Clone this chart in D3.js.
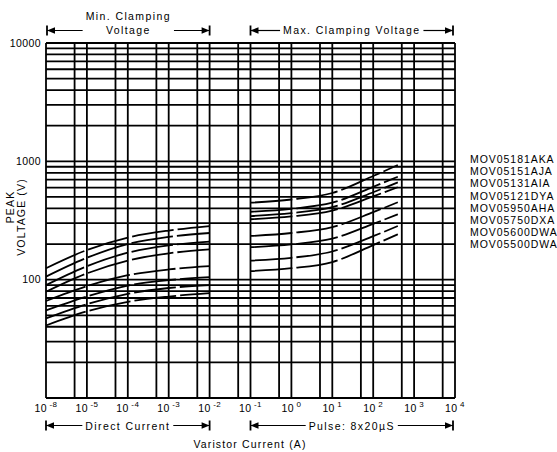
<!DOCTYPE html>
<meta charset="utf-8">
<style>
  body { margin: 0; background: #fff; }
  svg text { font-family: "Liberation Sans", Arial, sans-serif; fill: #000; font-size: 10.5px; }
  .grid line { stroke: #000; stroke-width: 1.8; }
  .curve { fill: none; stroke: #000; stroke-width: 1.8; stroke-dasharray: 42 4; }
  .hdr { letter-spacing: 1.4px; }
  .ttl { letter-spacing: 1.15px; }
  .leg { letter-spacing: 0.95px; }
  .tick { letter-spacing: 0.4px; }
</style>
<body>
<div id="chart"></div>
<script src="https://d3js.org/d3.v7.min.js"></script>
<script>
// currents (A) where the curves were read
var dcCurrent = [1e-6, 1e-5, 1e-4, 1e-3, 1e-2];
var pulseCurrent = [0.1, 1, 10, 100, 400];

var models = ["MOV05181AKA", "MOV05151AJA", "MOV05131AIA", "MOV05121DYA",
              "MOV05950AHA", "MOV05750DXA", "MOV05600DWA", "MOV05500DWA"];

// min clamping voltage, direct current (V)
var dcVolts = [
  [125, 178, 227, 260, 284],
  [106, 153, 200, 230, 248],
  [90, 130, 169, 195, 210],
  [79, 113, 145, 167, 180],
  [66, 88, 109, 122, 130],
  [55, 72, 89, 99, 105],
  [47, 62, 76, 85, 90],
  [41, 54, 65, 72, 77]
];

// max clamping voltage, 8x20us pulse (V)
var pulseVolts = [
  [447, 476, 540, 752, 931],
  [375, 397, 447, 609, 741],
  [345, 365, 410, 548, 665],
  [324, 342, 383, 506, 604],
  [234, 248, 278, 372, 451],
  [188, 199, 222, 296, 357],
  [145, 153, 173, 233, 284],
  [118, 125, 141, 196, 242]
];

var xTickValues = [1e-6, 1e-5, 1e-4, 1e-3, 1e-2, 1e-1, 1e0, 1e1, 1e2, 1e3, 1e4];
var xTickExp = ["-8", "-5", "-4", "-3", "-2", "-1", "0", "1", "2", "3", "4"];
var yTickValues = [10000, 1000, 100];

var width = 557, height = 452;

var x = d3.scaleLog().domain([1e-6, 1e4]).range([46, 455]);
var y = d3.scaleLog().domain([10, 10000]).range([398, 43]);

var svg = d3.select("#chart").append("svg")
    .attr("width", width)
    .attr("height", height);

// grid lines: decades and 5x on the current axis, 1..9 per decade on voltage
var xGrid = [];
xTickValues.forEach(function(d, i) {
  xGrid.push(d);
  if (i < xTickValues.length - 1) xGrid.push(d * 5);
});
var yGrid = [10000];
[10, 100, 1000].forEach(function(dec) {
  for (var k = 1; k <= 9; k++) yGrid.push(dec * k);
});

var grid = svg.append("g").attr("class", "grid");
grid.selectAll(".v").data(xGrid).enter().append("line")
    .attr("x1", d => x(d)).attr("x2", d => x(d))
    .attr("y1", y(10000)).attr("y2", y(10));
grid.selectAll(".h").data(yGrid).enter().append("line")
    .attr("x1", x(1e-6)).attr("x2", x(1e4))
    .attr("y1", d => y(d)).attr("y2", d => y(d));

// y tick labels
svg.append("g").selectAll("text").data(yTickValues).enter().append("text")
    .attr("class", "tick")
    .attr("x", 41)
    .attr("y", d => y(d) + 3.8)
    .attr("text-anchor", "end")
    .text(d => d);

// x tick labels 10^n
var xl = svg.append("g").selectAll("text").data(xTickValues).enter().append("text")
    .attr("class", "tick")
    .attr("x", d => x(d))
    .attr("y", 412)
    .attr("text-anchor", "middle");
xl.append("tspan").text("10");
xl.append("tspan")
    .attr("dx", 2.5)
    .attr("dy", -5)
    .style("font-size", "8px")
    .text((d, i) => xTickExp[i]);

// curves
var line = d3.line()
    .x(d => x(d[0]))
    .y(d => y(d[1]))
    .curve(d3.curveMonotoneX);

svg.append("g").selectAll("path").data(dcVolts).enter().append("path")
    .attr("class", "curve")
    .attr("d", v => line(v.map((d, i) => [dcCurrent[i], d])));

svg.append("g").selectAll("path").data(pulseVolts).enter().append("path")
    .attr("class", "curve")
    .attr("d", v => line(v.map((d, i) => [pulseCurrent[i], d])));

// legend
svg.append("g").selectAll("text").data(models).enter().append("text")
    .attr("class", "leg")
    .attr("x", 470)
    .attr("y", (d, i) => 163 + i * 12.2)
    .text(d => d);

// y title
svg.append("text").attr("class", "ttl")
    .attr("transform", "translate(13.5,207) rotate(-90)")
    .attr("text-anchor", "middle").text("PEAK");
svg.append("text").attr("class", "ttl")
    .attr("transform", "translate(25,217) rotate(-90)")
    .attr("text-anchor", "middle").text("VOLTAGE (V)");

// x title
svg.append("text").attr("class", "ttl")
    .attr("x", 250).attr("y", 448)
    .attr("text-anchor", "middle")
    .text("Varistor Current (A)");

// range brackets  |<---- label ---->|
function bracket(x1, x2, ly, lines, baseY) {
  var g = svg.append("g");
  var cx = (x1 + x2) / 2, w = 0;
  lines.forEach(function(t, i) {
    var tx = g.append("text").attr("class", "hdr")
        .attr("x", cx).attr("y", baseY[i])
        .attr("text-anchor", "middle").text(t);
    w = Math.max(w, tx.node().getComputedTextLength());
  });
  var a = cx - w / 2 - 3, b = cx + w / 2 + 3;
  g.append("line").attr("x1", x1).attr("x2", a).attr("y1", ly).attr("y2", ly)
      .attr("stroke", "#000").attr("stroke-width", 1.2);
  g.append("line").attr("x1", b).attr("x2", x2).attr("y1", ly).attr("y2", ly)
      .attr("stroke", "#000").attr("stroke-width", 1.2);
  [x1, x2].forEach(function(px, k) {
    var dir = k === 0 ? 1 : -1;
    g.append("line").attr("x1", px).attr("x2", px)
        .attr("y1", ly - 5).attr("y2", ly + 5)
        .attr("stroke", "#000").attr("stroke-width", 1.8);
    g.append("path")
        .attr("d", "M" + px + "," + ly + "L" + (px + dir * 8) + "," + (ly - 3.2) +
                   "L" + (px + dir * 8) + "," + (ly + 3.2) + "Z")
        .attr("fill", "#000");
  });
}

bracket(x(1e-6) + 1, x(1e-2), 30.5, ["Min. Clamping", "Voltage"], [20, 33.5]);
bracket(x(1e-1), x(1e4) - 2, 30.5, ["Max. Clamping Voltage"], [33.5]);
bracket(x(1e-6), x(1e-2), 425.5, ["Direct Current"], [429.5]);
bracket(x(1e-1), x(1e4) - 2, 425.5, ["Pulse: 8x20\u00b5S"], [429.5]);
</script>
</body>
